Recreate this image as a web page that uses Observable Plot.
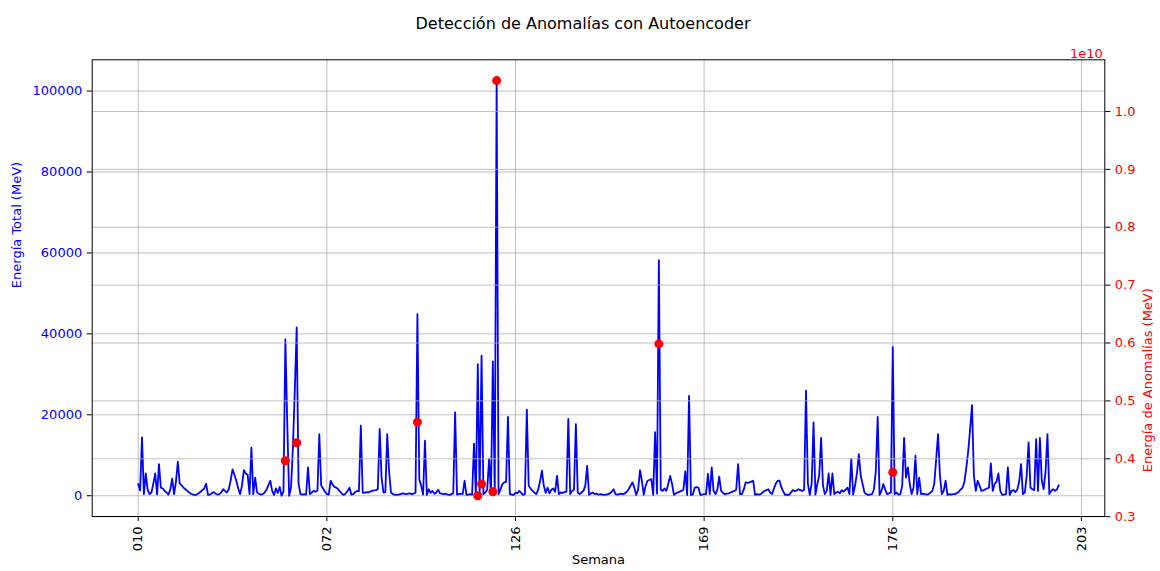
<!DOCTYPE html>
<html><head><meta charset="utf-8">
<script src="https://cdn.jsdelivr.net/npm/d3@7"></script>
<script src="https://cdn.jsdelivr.net/npm/@observablehq/plot@0.6"></script>
<style>
body{margin:0;background:#fff}
#chart{position:relative;width:1160px;height:571px}
#chart svg{position:absolute;left:0;top:0}
</style>
</head><body><div id="chart"></div>
<script>
// x tick labels (week codes) and their positions (week index)
const weekTickLabels = ["010", "072", "126", "169", "176", "203"];
const weekTickPositions = [0, 100, 200, 300, 400, 500];

// Energía total por semana (MeV)
const energyTotal = [
  2900, 1300, 14400, 400, 5500, 1500, 400, 800, 3000, 5500,
  300, 7800, 2000, 1800, 1200, 800, 300, 1500, 4200, 400,
  3500, 8400, 3000, 2600, 2000, 1600, 1200, 800, 500, 300,
  200, 300, 600, 1000, 1400, 1800, 3000, 200, 300, 600,
  900, 500, 300, 400, 800, 1600, 1200, 800, 1600, 3800,
  6500, 5200, 3700, 1800, 400, 2500, 6300, 5500, 5200, 400,
  11900, 400, 4500, 800, 500, 300, 400, 800, 1500, 2600,
  3700, 1200, 200, 1800, 700, 2200, 0, 1000, 38700, 18000,
  0, 2000, 12000, 26000, 41600, 3000, 400, 300, 400, 300,
  7000, 400, 800, 1200, 1000, 1300, 15200, 2500, 1800, 1000,
  400, 300, 3700, 2800, 2200, 2000, 1600, 1000, 500, 200,
  600, 1200, 2000, 300, 400, 900, 1200, 1100, 17300, 800,
  700, 900, 800, 1000, 1200, 1300, 1400, 1600, 16500, 4500,
  800, 900, 15200, 6000, 800, 400, 300, 200, 300, 400,
  600, 500, 400, 500, 600, 400, 500, 800, 44900, 4000,
  2500, 300, 13600, 200, 1600, 700, 1200, 500, 800, 1500,
  600, 500, 400, 500, 300, 200, 400, 600, 20600, 300,
  400, 500, 400, 3700, 200, 300, 400, 300, 12900, 200,
  32500, 400, 34600, 400, 800, 1500, 9100, 400, 33200, 400,
  102600, 400, 1500, 2800, 3300, 3400, 19500, 400, 300, 200,
  800, 600, 1200, 700, 200, 400, 21300, 2500, 1800, 1200,
  800, 400, 1500, 3500, 6200, 2500, 700, 2000, 600, 1500,
  1800, 1000, 4900, 400, 800, 700, 900, 1000, 19000, 400,
  1200, 1500, 17700, 800, 400, 800, 1200, 2500, 7400, 200,
  600, 800, 400, 500, 300, 400, 300, 200, 300, 400,
  600, 1000, 1600, 400, 300, 400, 500, 400, 600, 1000,
  1600, 2500, 3300, 2000, 200, 1500, 6300, 3700, 200, 2500,
  3700, 3900, 4100, 200, 15700, 500, 58200, 1500, 1200, 1800,
  1200, 3000, 4900, 2900, 200, 600, 800, 1000, 1200, 1500,
  6000, 200, 24700, 200, 300, 2000, 2100, 2000, 200, 300,
  400, 400, 5400, 400, 7000, 1200, 400, 1500, 4700, 1200,
  700, 400, 500, 600, 800, 1000, 1200, 1500, 7800, 400,
  400, 1500, 3300, 3200, 3300, 3500, 3700, 200, 400, 300,
  400, 800, 1200, 1400, 1600, 800, 400, 1800, 3000, 3700,
  3700, 2000, 1000, 200, 300, 200, 800, 1400, 1100, 1300,
  1600, 1400, 1200, 1500, 26000, 3000, 200, 3000, 18100, 300,
  2900, 5000, 14300, 2500, 400, 1200, 5500, 200, 5500, 400,
  800, 1000, 600, 1400, 1000, 1500, 2000, 400, 9100, 300,
  2500, 5500, 10300, 5000, 2900, 800, 400, 200, 300, 400,
  1500, 6000, 19500, 200, 1200, 2900, 1500, 400, 600, 800,
  36700, 400, 800, 300, 400, 2500, 14300, 4500, 7000, 2900,
  400, 2000, 9900, 400, 4500, 400, 500, 400, 300, 400,
  800, 1200, 3000, 9000, 15200, 5000, 400, 1200, 3700, 200,
  400, 300, 400, 400, 700, 1000, 1500, 2000, 3500, 7000,
  11000, 16500, 22400, 5000, 1200, 3700, 2500, 1200, 1300, 1600,
  1800, 2000, 8000, 1200, 2900, 3500, 5500, 1200, 200, 300,
  400, 7000, 200, 1200, 1400, 900, 1500, 3500, 7800, 400,
  800, 5000, 13200, 2000, 1600, 1400, 14000, 1200, 14300, 3700,
  1600, 6000, 15200, 400, 1200, 1600, 1200, 1600, 2600
];

// anomalies: week index and anomaly energy (MeV)
const anomalyWeekIndex = [78, 84, 148, 180, 182, 188, 190, 276, 400];
const anomalyEnergy = [3.966e9, 4.277e9, 4.634e9, 3.362e9, 3.564e9, 3.431e9, 1.0534e10, 5.985e9, 3.766e9];

const leftTicks = [0, 20000, 40000, 60000, 80000, 100000];
const rightTicks = [3e9, 4e9, 5e9, 6e9, 7e9, 8e9, 9e9, 1e10];

const W = 1160, H = 571;
const M = {marginTop: 59.3, marginBottom: 55, marginLeft: 91.7, marginRight: 55.7};
const n = energyTotal.length;
const xDomain = [-0.05 * (n - 1), 1.05 * (n - 1)];
const [ymin, ymax] = d3.extent(energyTotal);
const ypad = (ymax - ymin) * 0.05;
const [emin, emax] = d3.extent(anomalyEnergy);
const epad = (emax - emin) * 0.05;

const seriesData = energyTotal.map((v, i) => ({i, v}));
const anomalyData = anomalyWeekIndex.map((i, k) => ({i, e: anomalyEnergy[k]}));
const gridStyle = {stroke: "#b0b0b0", strokeOpacity: 1, strokeWidth: 0.8};
const font = {fontFamily: "DejaVu Sans, sans-serif", fontSize: "13px", overflow: "visible"};

const p1 = Plot.plot({
  width: W, height: H, ...M,
  style: {...font, background: "white"},
  x: {domain: xDomain},
  y: {domain: [ymin - ypad, ymax + ypad]},
  marks: [
    Plot.gridX(weekTickPositions, gridStyle),
    Plot.gridY(leftTicks, gridStyle),
    Plot.line(seriesData, {x: "i", y: "v", stroke: "blue", strokeWidth: 1.8}),
    Plot.axisX(weekTickPositions, {
      tickFormat: d => weekTickLabels[weekTickPositions.indexOf(d)],
      tickRotate: -90, tickSize: 5, tickPadding: 5, label: null,
      stroke: "black", fill: "black", fontSize: 13
    }),
    Plot.axisY(leftTicks, {
      tickFormat: d => String(d), tickSize: 5, tickPadding: 5, label: null,
      stroke: "black", fill: "blue", fontSize: 13
    }),
    Plot.text(["Energía Total (MeV)"], {text: d => d, frameAnchor: "left", dx: -75, rotate: -90, fill: "blue", fontSize: 13}),
    Plot.text(["Semana"], {text: d => d, frameAnchor: "bottom", dy: 47, fill: "black", fontSize: 13}),
    Plot.text(["Detección de Anomalías con Autoencoder"], {text: d => d, frameAnchor: "top", dy: -42, dx: -15.5, fill: "black", fontSize: 16})
  ]
});

const p2 = Plot.plot({
  width: W, height: H, ...M,
  style: {...font, background: "none"},
  x: {domain: xDomain, axis: null},
  y: {domain: [emin - epad, emax + epad], axis: null},
  marks: [
    Plot.gridY(rightTicks, gridStyle),
    Plot.dot(anomalyData, {x: "i", y: "e", r: 4.5, fill: "red"}),
    Plot.axisY(rightTicks, {
      anchor: "right", tickFormat: d => (d / 1e10).toFixed(1),
      tickSize: 5, tickPadding: 5, label: null,
      stroke: "black", fill: "red", fontSize: 13
    }),
    Plot.text(["Energía de Anomalías (MeV)"], {text: d => d, frameAnchor: "right", dx: 43.4, rotate: -90, fill: "red", fontSize: 13}),
    Plot.text(["1e10"], {text: d => d, frameAnchor: "top-right", dy: -11, dx: -2, textAnchor: "end", fill: "red", fontSize: 13}),
    Plot.frame({stroke: "black", strokeWidth: 1})
  ]
});

const chart = document.getElementById("chart");
chart.appendChild(p1);
chart.appendChild(p2);
</script>
</body></html>
